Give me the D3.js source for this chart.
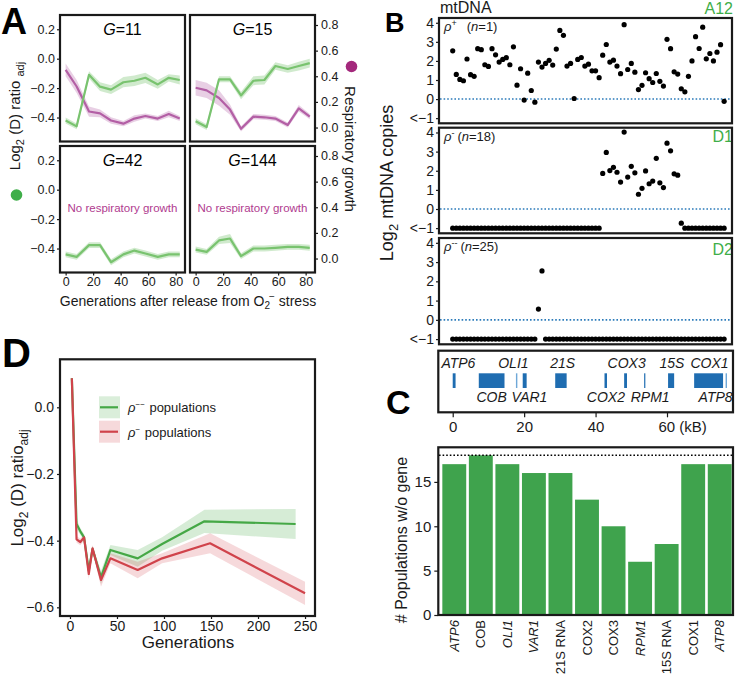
<!DOCTYPE html>
<html>
<head>
<meta charset="utf-8">
<script src="https://cdn.jsdelivr.net/npm/d3@7"></script>
<style>
body { margin: 0; background: #fff; }
text { font-family: "Liberation Sans", Arial, Helvetica, sans-serif; }
</style>
</head>
<body>
<svg id="fig" width="738" height="685"></svg>
<script>
// ---- Panel A data: generations after release, log2 ratio (left axis) and respiratory growth (right axis)
const genA = [0, 8, 17, 25, 33, 42, 50, 58, 67, 75, 83];
const ratioG11 = [-0.42, -0.46, -0.11, -0.19, -0.21, -0.16, -0.15, -0.13, -0.175, -0.13, -0.145];
const ratioG11Ci = [0.02, 0.02, 0.025, 0.03, 0.03, 0.035, 0.035, 0.035, 0.03, 0.025, 0.03];
const respG11 = [0.45, 0.32, 0.125, 0.11, 0.055, 0.03, 0.07, 0.09, 0.07, 0.105, 0.07];
const respG11Ci = [0.05, 0.05, 0.04, 0.03, 0.025, 0.02, 0.025, 0.02, 0.02, 0.025, 0.02];
const ratioG15 = [-0.425, -0.465, -0.14, -0.14, -0.25, -0.15, -0.145, -0.05, -0.07, -0.05, -0.03];
const ratioG15Ci = [0.02, 0.02, 0.02, 0.02, 0.025, 0.03, 0.03, 0.025, 0.025, 0.03, 0.03];
const respG15 = [0.31, 0.29, 0.23, 0.14, -0.01, 0.085, 0.08, 0.07, 0.02, 0.15, 0.085];
const respG15Ci = [0.06, 0.06, 0.06, 0.04, 0.02, 0.02, 0.02, 0.02, 0.02, 0.025, 0.02];
const ratioG42 = [-0.44, -0.457, -0.377, -0.377, -0.493, -0.44, -0.414, -0.434, -0.457, -0.44, -0.44];
const ratioG42Ci = [0.02, 0.02, 0.02, 0.02, 0.02, 0.02, 0.02, 0.02, 0.02, 0.02, 0.02];
const ratioG144 = [-0.407, -0.423, -0.345, -0.332, -0.452, -0.4, -0.4, -0.395, -0.389, -0.389, -0.395];
const ratioG144Ci = [0.02, 0.02, 0.025, 0.03, 0.02, 0.02, 0.02, 0.02, 0.02, 0.02, 0.02];

// ---- Panel B data: log2 mtDNA copies per 1 kB bin (-1 means "<-1")
const a12Copies = [2.53,1.29,1.03,0.96,2.1,1.28,1.19,2.64,2.59,1.8,1.71,2.64,2.32,1.94,2.08,2.17,1.8,2.74,0.73,1.59,
  -0.05,1.36,0.45,-0.16,1.94,1.68,1.87,2.03,1.78,2.62,3.6,3.34,1.73,1.87,0.03,2.08,2.18,1.73,1.83,1.48,
  1.48,1.12,2.3,2.86,1.94,2.04,1.73,1.33,3.9,1.55,1.87,1.41,0.5,0.72,1.38,1.07,0.87,1.34,0.93,0.68,
  3.13,2.64,1.43,1.31,0.54,0.38,1.19,2.0,3.27,2.65,3.77,2.11,2.39,2.0,2.46,2.85,-0.12];
const d1Copies = [-1,-1,-1,-1,-1,-1,-1,-1,-1,-1,-1,-1,-1,-1,-1,-1,-1,-1,-1,-1,
  -1,-1,-1,-1,-1,-1,-1,-1,-1,-1,-1,-1,-1,-1,-1,-1,-1,-1,-1,-1,-1,-1,
  1.86,2.96,2.01,2.18,1.92,1.41,4.02,1.67,2.23,1.89,0.77,1.08,1.99,1.32,1.46,2.65,1.37,1.12,3.44,3.04,1.84,1.77,
  -0.74,-1,-1,-1,-1,-1,-1,-1,-1,-1,-1,-1,-1];
const d2Copies = [-1,-1,-1,-1,-1,-1,-1,-1,-1,-1,-1,-1,-1,-1,-1,-1,-1,-1,-1,-1,-1,-1,-1,-1,
  0.56,2.54,
  -1,-1,-1,-1,-1,-1,-1,-1,-1,-1,-1,-1,-1,-1,-1,-1,-1,-1,-1,-1,-1,-1,-1,-1,-1,
  -1,-1,-1,-1,-1,-1,-1,-1,-1,-1,-1,-1,-1,-1,-1,-1,-1,-1,-1,-1,-1,-1,-1,-1,-1,-1];
const copyTicks = [-1, 0, 1, 2, 3, 4];

// gene map (kB)
const geneNames = ["ATP6", "COB", "OLI1", "VAR1", "21S", "COX2", "COX3", "RPM1", "15S", "COX1", "ATP8"];
const geneStart = [0, 7.3, 17.7, 19.6, 28.7, 42.5, 48.0, 53.6, 60.3, 67.6, 76.4];
const geneEnd = [0.8, 14.5, 18.1, 20.7, 31.9, 43.2, 48.8, 53.9, 62.0, 75.7, 76.8];
const geneLight = [false, false, true, false, false, false, false, false, false, false, true];
const geneLabelAt = [1.6, 10.9, 17, 21.5, 30.8, 42.9, 48.7, 55.3, 61.4, 71.9, 73.6];
const geneLabelTop = [true, false, true, false, true, false, true, false, true, true, false];
const kbTicks = [0, 20, 40, 60];

// ---- Panel C data
const barGenes = ["ATP6", "COB", "OLI1", "VAR1", "21S RNA", "COX2", "COX3", "RPM1", "15S RNA", "COX1", "ATP8"];
const barCounts = [17, 18, 17, 16, 16, 13, 10, 6, 8, 17, 17];
const barItalic = [true, false, true, true, false, false, false, true, false, false, true];
const totalPopulations = 18;

// ---- Panel D data
const genRhoMM = [2, 7, 11, 15, 20, 24, 33, 43, 72, 98, 143, 240];
const ratioRhoMM = [0.087, -0.35, -0.372, -0.39, -0.49, -0.425, -0.51, -0.428, -0.453, -0.41, -0.342, -0.35];
const ciRhoMM = [0.005, 0.015, 0.01, 0.01, 0.015, 0.01, 0.02, 0.015, 0.025, 0.02, 0.035, 0.045];
const genRhoM = [2, 7, 11, 15, 20, 24, 33, 43, 72, 98, 149, 250];
const ratioRhoM = [0.087, -0.396, -0.404, -0.39, -0.5, -0.423, -0.518, -0.453, -0.488, -0.453, -0.408, -0.558];
const ciRhoM = [0.005, 0.01, 0.01, 0.01, 0.015, 0.01, 0.02, 0.015, 0.025, 0.015, 0.03, 0.035];

const svg = d3.select("#fig");
const FONT = "'Liberation Sans', Arial, Helvetica, sans-serif";
const INK = "#1a1a1a";

// text made of parts with sub/superscripts; shift in px (positive = down)
function addRich(textSel, parts) {
    var shift = 0;
    parts.forEach(function(p) {
        var s = p.shift || 0;
        var t = textSel.append("tspan").attr("dy", s - shift).text(p.t);
        if (p.dx) t.attr("dx", p.dx);
        if (p.size) t.attr("font-size", p.size);
        if (p.italic) t.attr("font-style", "italic");
        shift = s;
    });
    return textSel;
}

function styleAxis(g, size) {
    g.attr("font-family", FONT).attr("font-size", size);
    g.select(".domain").remove();
    g.selectAll(".tick line").attr("stroke", INK).attr("stroke-width", 1.2);
    g.selectAll(".tick text").attr("fill", INK);
}

function box(x0, y0, x1, y1, sw) {
    svg.append("rect")
    .attr("x", x0).attr("y", y0)
    .attr("width", x1 - x0).attr("height", y1 - y0)
    .attr("fill", "none").attr("stroke", INK).attr("stroke-width", sw);
}

function letter(t, x, y, size) {
    svg.append("text").attr("x", x).attr("y", y)
    .attr("font-size", size).attr("font-weight", "bold").attr("fill", "#000").text(t);
}

// =================== Panel A ===================
const greenA = "#79c36f", purpleA = "#b35fa5";
const aCols = [[60, 185], [190, 315]];
const aRows = [[15, 141.5], [146, 272.5]];
const aPanels = [
    {g: "11", col: 0, row: 0, ratio: ratioG11, ratioCi: ratioG11Ci, resp: respG11, respCi: respG11Ci},
    {g: "15", col: 1, row: 0, ratio: ratioG15, ratioCi: ratioG15Ci, resp: respG15, respCi: respG15Ci},
    {g: "42", col: 0, row: 1, ratio: ratioG42, ratioCi: ratioG42Ci, resp: null},
    {g: "144", col: 1, row: 1, ratio: ratioG144, ratioCi: ratioG144Ci, resp: null}
];

aPanels.forEach(function(p) {
    var cx = aCols[p.col], ry = aRows[p.row];
    var x = d3.scaleLinear().domain([-4.1, 86.8]).range(cx);
    var yL = d3.scaleLinear().domain([-0.563, 0.297]).range([ry[1], ry[0]]);
    var yR = d3.scaleLinear().domain([-0.109, 0.878]).range([ry[1], ry[0]]);
    var g = svg.append("g");

    var bandL = d3.area().x(function(d, i) { return x(genA[i]); })
        .y0(function(d, i) { return yL(d - p.ratioCi[i]); })
        .y1(function(d, i) { return yL(d + p.ratioCi[i]); });
    var lineL = d3.line().x(function(d, i) { return x(genA[i]); }).y(function(d) { return yL(d); });

    g.append("path").datum(p.ratio).attr("d", bandL).attr("fill", greenA).attr("opacity", 0.35);
    if (p.resp) {
        var bandR = d3.area().x(function(d, i) { return x(genA[i]); })
            .y0(function(d, i) { return yR(d - p.respCi[i]); })
            .y1(function(d, i) { return yR(d + p.respCi[i]); });
        var lineR = d3.line().x(function(d, i) { return x(genA[i]); }).y(function(d) { return yR(d); });
        g.append("path").datum(p.resp).attr("d", bandR).attr("fill", purpleA).attr("opacity", 0.3);
        g.append("path").datum(p.resp).attr("d", lineR).attr("fill", "none")
        .attr("stroke", purpleA).attr("stroke-width", 2.2).attr("stroke-linejoin", "round");
    } else {
        g.append("text").attr("x", (cx[0] + cx[1]) / 2).attr("y", ry[0] + 66)
        .attr("text-anchor", "middle").attr("font-size", 11.5).attr("fill", "#b03b8f")
        .text("No respiratory growth");
    }
    g.append("path").datum(p.ratio).attr("d", lineL).attr("fill", "none")
    .attr("stroke", greenA).attr("stroke-width", 2.2).attr("stroke-linejoin", "round");

    addRich(g.append("text").attr("x", (cx[0] + cx[1]) / 2).attr("y", ry[0] + 20)
        .attr("text-anchor", "middle").attr("font-size", 16).attr("fill", "#000"),
        [{t: "G", italic: true}, {t: "=" + p.g}]);

    if (p.col === 0) {
        var al = g.append("g").attr("transform", "translate(" + cx[0] + ",0)")
        .call(d3.axisLeft(yL).tickValues([-0.4, -0.2, 0, 0.2]).tickSize(3).tickPadding(2).tickFormat(d3.format(".1f")));
        styleAxis(al, 12.5);
    } else {
        var ar = g.append("g").attr("transform", "translate(" + cx[1] + ",0)")
        .call(d3.axisRight(yR).tickValues([0, 0.2, 0.4, 0.6, 0.8]).tickSize(3).tickPadding(3).tickFormat(d3.format(".1f")));
        styleAxis(ar, 12.5);
    }
    if (p.row === 1) {
        var ab = g.append("g").attr("transform", "translate(0," + ry[1] + ")")
        .call(d3.axisBottom(x).tickValues([0, 20, 40, 60, 80]).tickSize(3).tickPadding(2));
        styleAxis(ab, 12.5);
    }
    box(cx[0], ry[0], cx[1], ry[1], 2.2);
});

addRich(svg.append("text").attr("transform", "translate(20,116) rotate(-90)")
    .attr("text-anchor", "middle").attr("font-size", 15).attr("fill", INK),
    [{t: "Log"}, {t: "2", size: 11, shift: 4}, {t: " (D) ratio "}, {t: "adj", size: 11, shift: 4}]);
svg.append("circle").attr("cx", 16.5).attr("cy", 195).attr("r", 5.8).attr("fill", "#3fae49");
svg.append("text").attr("transform", "translate(345,149) rotate(90)")
    .attr("text-anchor", "middle").attr("font-size", 15).attr("fill", INK).text("Respiratory growth");
svg.append("circle").attr("cx", 351.5).attr("cy", 66.5).attr("r", 5.8).attr("fill", "#a3287c");
addRich(svg.append("text").attr("x", 188).attr("y", 306).attr("text-anchor", "middle")
    .attr("font-size", 14).attr("fill", INK),
    [{t: "Generations after release from O"}, {t: "2", size: 10, shift: 3}, {t: "\u2212", size: 10, shift: -6, dx: -1}, {t: " stress"}]);

letter("A", 1, 34, 36);

// =================== Panel B ===================
const bx = d3.scaleLinear().domain([-3.84, 78.2]).range([439, 732]);
const bRows = [[18, 123.3], [127.7, 233.3], [238, 344.3]];
const bPanels = [
    {data: a12Copies, name: "A12", sup: "+", n: "1", nameY: 14, gap: 10},
    {data: d1Copies, name: "D1", sup: "-", n: "18", nameY: 142, gap: 3},
    {data: d2Copies, name: "D2", sup: "--", n: "25", nameY: 255, gap: 3}
];

bPanels.forEach(function(p, k) {
    var ry = bRows[k];
    var y = d3.scaleLinear().domain([-1.27, 4.25]).range([ry[1], ry[0]]);
    var g = svg.append("g");
    g.append("line").attr("x1", 440).attr("x2", 731).attr("y1", y(0)).attr("y2", y(0))
    .attr("stroke", "#2b7bba").attr("stroke-width", 1.6).attr("stroke-dasharray", "1.6,2");
    g.selectAll("circle").data(p.data).enter().append("circle")
    .attr("cx", function(d, i) { return bx(i); })
    .attr("cy", function(d) { return y(d); })
    .attr("r", 2.6).attr("fill", "#000");

    var ay = g.append("g").attr("transform", "translate(439,0)")
    .call(d3.axisLeft(y).tickValues(copyTicks).tickSize(3).tickPadding(2)
        .tickFormat(function(d) { return d === -1 ? "<\u22121" : d; }));
    styleAxis(ay, 14);

    addRich(g.append("text").attr("x", 444).attr("y", ry[0] + 13).attr("font-size", 13).attr("fill", INK),
        [{t: "\u03c1", italic: true}, {t: p.sup, size: 9, shift: -5}, {t: "(", dx: p.gap}, {t: "n", italic: true}, {t: "=" + p.n + ")"}]);
    g.append("text").attr("x", 733).attr("y", p.nameY).attr("text-anchor", "end")
    .attr("font-size", 16).attr("fill", "#3fae49").text(p.name);
    box(439, ry[0], 732, ry[1], 2.2);
});

svg.append("text").attr("x", 440).attr("y", 13).attr("font-size", 16).attr("fill", INK).text("mtDNA");
addRich(svg.append("text").attr("transform", "translate(393,183) rotate(-90)")
    .attr("text-anchor", "middle").attr("font-size", 18).attr("fill", INK),
    [{t: "Log"}, {t: "2", size: 13, shift: 5}, {t: " mtDNA copies"}]);
letter("B", 385, 32, 27);

// gene map
const gm = svg.append("g");
geneNames.forEach(function(name, i) {
    gm.append("rect").attr("x", bx(geneStart[i])).attr("y", 373.3)
    .attr("width", Math.max(1.2, bx(geneEnd[i]) - bx(geneStart[i]))).attr("height", 14.7)
    .attr("fill", geneLight[i] ? "#6fa8d8" : "#1f6db1");
    gm.append("text").attr("x", bx(geneLabelAt[i])).attr("y", geneLabelTop[i] ? 368 : 401.5)
    .attr("text-anchor", "middle").attr("font-size", 14).attr("font-style", "italic")
    .attr("fill", INK).text(name);
});
box(438.3, 350.7, 733, 412.3, 2.2);
const gmAxis = svg.append("g").attr("transform", "translate(0,412.3)")
    .call(d3.axisBottom(bx).tickValues(kbTicks).tickSize(5).tickPadding(4));
styleAxis(gmAxis, 15);
gmAxis.selectAll(".tick text").filter(function(d) { return d === 60; })
    .attr("text-anchor", "start").attr("x", -9).text("60 (kB)");

// =================== Panel C ===================
const cx = d3.scaleBand().domain(barGenes).range([441, 733]).paddingInner(0.1).paddingOuter(0.05);
const cy = d3.scaleLinear().domain([0, 18.9]).range([615, 447.3]);
const cg = svg.append("g");
cg.selectAll("rect.bar").data(barCounts).enter().append("rect")
    .attr("class", "bar")
    .attr("x", function(d, i) { return cx(barGenes[i]); })
    .attr("y", function(d) { return cy(d); })
    .attr("width", cx.bandwidth())
    .attr("height", function(d) { return cy(0) - cy(d); })
    .attr("fill", "#3fa34d");
cg.append("line").attr("x1", 439).attr("x2", 732).attr("y1", cy(totalPopulations)).attr("y2", cy(totalPopulations))
    .attr("stroke", "#000").attr("stroke-width", 1.6).attr("stroke-dasharray", "1.6,2");
const cyAxis = cg.append("g").attr("transform", "translate(438.3,0)")
    .call(d3.axisLeft(cy).tickValues([0, 5, 10, 15]).tickSize(4).tickPadding(3));
styleAxis(cyAxis, 15);
barGenes.forEach(function(name, i) {
    cg.append("text")
    .attr("transform", "translate(" + (cx(name) + cx.bandwidth() / 2 + 4.5) + ",620) rotate(-90)")
    .attr("text-anchor", "end").attr("font-size", 13)
    .attr("font-style", barItalic[i] ? "italic" : "normal").attr("fill", INK).text(name);
});
box(438.3, 447.3, 733, 615, 2.2);
svg.append("text").attr("transform", "translate(407,540) rotate(-90)")
    .attr("text-anchor", "middle").attr("font-size", 16).attr("fill", INK).text("# Populations w/o gene");
letter("C", 386, 414, 34);

// =================== Panel D ===================
const dx = d3.scaleLinear().domain([-10.6, 260.6]).range([60, 315]);
const dy = d3.scaleLinear().domain([-0.626, 0.144]).range([616, 359.3]);
const greenD = "#45a846", redD = "#d0434b";
const dg = svg.append("g");

function bandD(gens, vals, ci) {
    return d3.area().x(function(d, i) { return dx(gens[i]); })
        .y0(function(d, i) { return dy(d - ci[i]); })
        .y1(function(d, i) { return dy(d + ci[i]); })(vals);
}
function lineD(gens, vals) {
    return d3.line().x(function(d, i) { return dx(gens[i]); }).y(function(d) { return dy(d); })(vals);
}
dg.append("path").attr("d", bandD(genRhoMM, ratioRhoMM, ciRhoMM)).attr("fill", greenD).attr("opacity", 0.22);
dg.append("path").attr("d", bandD(genRhoM, ratioRhoM, ciRhoM)).attr("fill", redD).attr("opacity", 0.2);
dg.append("path").attr("d", lineD(genRhoMM, ratioRhoMM)).attr("fill", "none")
    .attr("stroke", greenD).attr("stroke-width", 2.2).attr("stroke-linejoin", "round");
dg.append("path").attr("d", lineD(genRhoM, ratioRhoM)).attr("fill", "none")
    .attr("stroke", redD).attr("stroke-width", 2.2).attr("stroke-linejoin", "round");

const dxAxis = dg.append("g").attr("transform", "translate(0,616)")
    .call(d3.axisBottom(dx).tickValues([0, 50, 100, 150, 200, 250]).tickSize(3).tickPadding(2));
styleAxis(dxAxis, 14);
const dyAxis = dg.append("g").attr("transform", "translate(60,0)")
    .call(d3.axisLeft(dy).tickValues([-0.6, -0.4, -0.2, 0]).tickSize(3).tickPadding(3).tickFormat(d3.format(".1f")));
styleAxis(dyAxis, 14);
box(60, 359.3, 315, 616, 2.2);

// legend
const legend = [
    {color: greenD, sup: "\u2212\u2212", y: 407.3},
    {color: redD, sup: "\u2212", y: 431.7}
];
legend.forEach(function(l) {
    dg.append("rect").attr("x", 99).attr("y", l.y - 11).attr("width", 21).attr("height", 22)
    .attr("fill", l.color).attr("opacity", 0.2);
    dg.append("line").attr("x1", 100).attr("x2", 118).attr("y1", l.y).attr("y2", l.y)
    .attr("stroke", l.color).attr("stroke-width", 2.2);
    addRich(dg.append("text").attr("x", 128).attr("y", l.y + 5).attr("font-size", 13).attr("fill", INK),
        [{t: "\u03c1", italic: true}, {t: l.sup, size: 8, shift: -5}, {t: " populations", dx: 1}]);
});

svg.append("text").attr("x", 188).attr("y", 648).attr("text-anchor", "middle")
    .attr("font-size", 17).attr("fill", INK).text("Generations");
addRich(svg.append("text").attr("transform", "translate(23,488) rotate(-90)")
    .attr("text-anchor", "middle").attr("font-size", 17).attr("fill", INK),
    [{t: "Log"}, {t: "2", size: 12, shift: 5}, {t: " (D) ratio"}, {t: "adj", size: 12, shift: 5}]);
letter("D", 2, 367, 40);
</script>
</body>
</html>
